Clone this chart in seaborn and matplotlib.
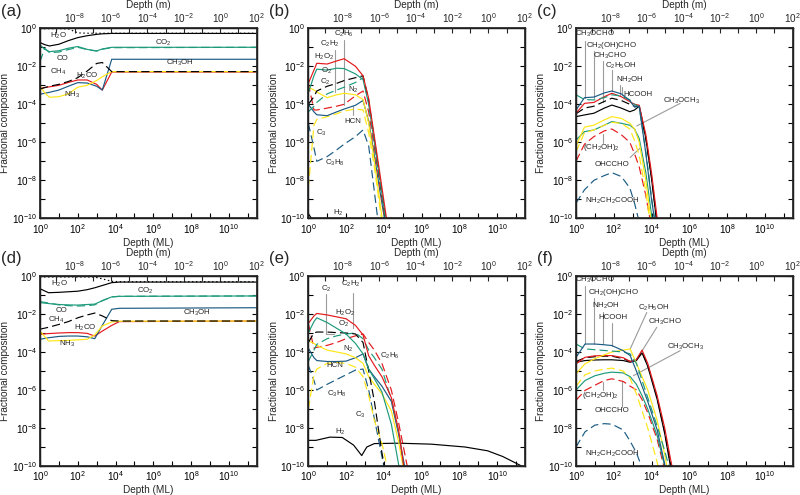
import numpy as np
import seaborn as sns
import matplotlib
matplotlib.use("Agg")
import matplotlib.pyplot as plt
from matplotlib.ticker import FixedLocator, FuncFormatter, NullLocator

sns.set_theme(style="ticks")
plt.rcParams['font.family'] = ['Liberation Sans', 'DejaVu Sans']
plt.rcParams['mathtext.fontset'] = 'custom'
plt.rcParams['mathtext.rm'] = 'Liberation Sans'
plt.rcParams['mathtext.it'] = 'Liberation Sans:italic'
plt.rcParams['mathtext.bf'] = 'Liberation Sans:bold'

# all values are log10 (depth in ML, fractional composition)

# ---- panel (a)
depth_a = [0, 0.25, 0.5, 1, 1.5, 2, 2.5, 3, 3.3, 3.8, 11.5]
a_total = [-0.02, -0.02, -0.02, -0.02, -0.03, -0.24, -0.26, -0.26, -0.26, -0.26, -0.26]
a_h2o = [-0.75, -0.86, -0.93, -0.84, -0.65, -0.49, -0.39, -0.32, -0.29, -0.27, -0.27]
a_co2 = [-0.88, -1.1, -1.23, -1.18, -1.05, -0.96, -1.11, -1.19, -1.09, -1.0, -1.0]
a_co = [-1.75, -1.05, -1.28, -1.25, -1.12, -1.0, -1.12, -1.2, -1.1, -1.02, -1.0]
a_ch4 = [-3.2, -3.12, -3.05, -2.95, -2.8, -2.6, -2.25, -1.85, -1.8, -2.28, -2.28]
a_h2co = [-3.16, -3.12, -3.08, -3.0, -2.85, -2.72, -2.72, -2.95, -3.25, -2.3, -2.3]
a_ch3oh = [-3.47, -3.42, -3.37, -3.25, -3.05, -2.86, -2.88, -3.05, -3.25, -1.63, -1.63]
a_nh3 = [-3.03, -3.4, -3.63, -3.6, -3.45, -3.1, -3.0, -2.75, -2.55, -2.28, -2.28]

# ---- panel (b)
depth_b = [0, 0.3, 0.45, 1, 1.5, 1.9, 2.5, 2.9, 3.2, 3.5, 3.8, 4.2]
b_h2 = [-9.75, -10.2, -11, -11, -11, -11, -11, -11, -11, -11, -11, -11]
b_h2o2 = [-2.9, -2.2, -1.84, -1.88, -1.72, -1.6, -2.0, -2.5, -3.7, -5.7, -7.7, -10.4]
b_o2 = [-3.4, -2.5, -2.15, -2.2, -2.1, -2.12, -2.4, -2.7, -4.0, -6.0, -8.0, -10.8]
b_c2 = [-4.0, -3.6, -3.3, -3.05, -2.9, -2.75, -2.6, -2.5, -3.8, -5.9, -8.0, -10.8]
b_c2h2 = [-4.4, -4.1, -3.9, -3.45, -3.25, -3.1, -2.85, -2.6, -3.9, -5.9, -8.0, -10.8]
b_yellow = [-3.1, -3.25, -3.35, -3.65, -3.5, -3.42, -3.5, -3.75, -5.0, -7.0, -9.2, -12.0]
b_red_d = [-2.9, -4.3, -4.3, -4.2, -4.1, -4.0, -3.55, -3.3, -4.4, -6.3, -8.3, -11.0]
b_hcn = [-4.0, -4.4, -4.55, -4.6, -4.4, -4.25, -4.05, -3.8, -4.9, -6.7, -8.6, -11.0]
b_c3 = [-8.4, -5.1, -4.8, -4.65, -4.5, -4.35, -4.25, -4.3, -5.5, -7.3, -9.5, -12.0]
b_c3h8 = [-5.0, -6.3, -7.0, -6.75, -6.4, -6.1, -5.7, -5.35, -6.2, -8.6, -11.0, -13.0]

# ---- panel (c)
depth_c = [0, 0.45, 0.95, 1.5, 1.9, 2.4, 2.85, 3.1, 3.35, 3.7, 4.0, 4.3]
c_blue = [-4.3, -3.65, -3.62, -3.4, -3.3, -3.45, -3.8, -4.15, -4.1, -6.6, -9.0, -11.0]
c_green_d = [-3.5, -3.75, -3.77, -3.65, -3.5, -3.56, -3.77, -4.0, -4.15, -6.5, -8.9, -11.0]
c_red = [-4.47, -3.95, -3.9, -3.6, -3.42, -3.6, -3.86, -4.0, -4.05, -5.6, -7.6, -10.0]
c_black_d = [-4.5, -4.2, -4.1, -3.85, -3.68, -3.8, -4.0, -4.1, -4.1, -5.8, -7.8, -10.3]
c_black = [-4.65, -4.56, -4.47, -4.2, -4.04, -4.2, -4.39, -4.3, -4.1, -5.8, -7.9, -10.4]
c_yellow = [-6.2, -5.2, -5.1, -4.82, -4.65, -4.74, -5.0, -5.3, -6.0, -8.0, -10.3, -12.0]
c_yellow_d = [-6.5, -5.5, -5.35, -5.1, -4.95, -5.0, -5.3, -5.9, -6.7, -8.6, -10.8, -12.0]
c_green = [-5.88, -5.44, -5.35, -5.1, -4.91, -5.0, -5.1, -5.3, -5.8, -7.6, -9.8, -12.0]
c_red_d = [-7.0, -6.1, -5.7, -5.4, -5.3, -5.6, -6.0, -6.6, -7.3, -8.8, -10.5, -12.0]
c_blue_d = [-9.2, -8.5, -8.0, -7.75, -7.6, -7.8, -8.4, -9.2, -10.2, -12.0, -12.0, -12.0]

# ---- panel (d)
depth_d = [0, 0.45, 1, 1.5, 2, 2.5, 2.9, 3.3, 3.8, 4.2, 11.5]
d_total = [-0.05, -0.05, -0.05, -0.05, -0.05, -0.05, -0.06, -0.15, -0.28, -0.3, -0.3]
d_h2o = [-0.67, -0.88, -0.86, -0.83, -0.8, -0.72, -0.62, -0.5, -0.35, -0.32, -0.32]
d_co2 = [-1.4, -1.45, -1.5, -1.52, -1.53, -1.5, -1.48, -1.3, -1.1, -1.07, -1.05]
d_co = [-1.35, -1.42, -1.52, -1.56, -1.58, -1.56, -1.52, -1.3, -1.1, -1.07, -1.05]
d_ch4 = [-2.8, -2.7, -2.55, -2.4, -2.2, -2.05, -1.95, -2.1, -2.35, -2.37, -2.37]
d_h2co = [-3.07, -3.03, -3.0, -2.98, -2.98, -3.02, -3.16, -2.9, -2.6, -2.4, -2.37]
d_ch3oh = [-3.33, -3.25, -3.18, -3.16, -3.16, -3.2, -3.3, -2.6, -1.75, -1.7, -1.67]
d_nh3 = [-2.9, -3.42, -3.4, -3.39, -3.36, -3.33, -3.1, -2.63, -2.42, -2.38, -2.37]

# ---- panel (e)
depth_e = [0, 0.3, 0.45, 1, 1.5, 2, 2.5, 2.9, 3.2, 3.5, 3.9, 4.4, 4.8, 5.1, 5.4]
e_h2o2 = [-2.5, -2.1, -1.97, -2.05, -2.15, -2.25, -2.6, -3.1, -4.2, -4.7, -5.3, -6.4, -8.2, -10.3, -12.0]
e_o2 = [-3.0, -2.4, -2.2, -2.45, -2.75, -3.05, -3.55, -4.1, -4.9, -5.4, -6.1, -7.8, -10.0, -12.0, -12.0]
e_c2 = [-3.5, -3.0, -2.95, -2.95, -2.98, -3.0, -3.05, -3.5, -5.0, -6.6, -9.3, -12.0, -12.0, -12.0, -12.0]
e_c2h2 = [-4.5, -3.9, -3.6, -3.3, -3.15, -3.05, -3.0, -3.3, -3.9, -4.3, -4.9, -6.5, -8.3, -10.3, -12.0]
e_red_d = [-2.5, -3.8, -3.75, -3.65, -3.5, -3.3, -3.15, -3.05, -3.5, -3.9, -4.6, -6.0, -7.8, -9.3, -10.8]
e_yellow = [-3.4, -3.55, -3.65, -3.9, -4.0, -4.1, -4.3, -4.6, -5.3, -5.7, -6.2, -7.1, -8.8, -10.5, -12.0]
e_hcn = [-3.8, -4.3, -4.45, -4.5, -4.5, -4.48, -4.3, -4.1, -4.9, -5.3, -5.8, -6.6, -8.4, -10.0, -12.0]
e_c3 = [-7.0, -5.2, -4.9, -4.6, -4.55, -4.6, -4.8, -5.3, -6.3, -7.6, -8.8, -11.0, -12.0, -12.0, -12.0]
e_c3h8 = [-4.7, -5.5, -6.0, -5.7, -5.45, -5.2, -4.95, -4.9, -6.0, -7.5, -9.5, -12.0, -12.0, -12.0, -12.0]
depth_e_h2 = [0, 0.4, 1.15, 1.8, 2.4, 2.83, 3.1, 3.5, 4.8, 6.5, 8.3, 9.5, 10.3, 11.0, 11.5]
e_h2 = [-8.65, -8.65, -8.48, -8.5, -8.9, -9.45, -9.0, -8.82, -8.8, -8.85, -9.0, -9.2, -9.5, -9.85, -10.1]

# ---- panel (f)
depth_f = [0, 0.48, 1, 1.5, 1.9, 2.5, 2.87, 3.2, 3.5, 3.8, 4.3, 4.7, 5.0, 5.3]
f_blue = [-4.28, -3.58, -3.58, -3.62, -3.66, -3.93, -4.19, -5.0, -5.8, -6.6, -8.1, -9.9, -12, -12]
f_green_d = [-3.58, -3.84, -3.88, -3.92, -3.95, -4.0, -4.1, -4.6, -5.5, -6.4, -7.9, -9.2, -10.3, -12]
f_yellow = [-5.15, -4.62, -4.35, -4.15, -4.0, -3.9, -3.84, -4.6, -5.3, -6.0, -7.6, -9.4, -11, -12]
f_red = [-4.62, -4.28, -4.2, -4.19, -4.19, -4.3, -4.5, -4.4, -3.9, -4.6, -6.3, -8.0, -9.6, -11]
f_black_d = [-4.5, -4.3, -4.25, -4.22, -4.22, -4.35, -4.5, -4.4, -4.0, -4.7, -6.4, -8.2, -9.8, -11]
f_black = [-4.54, -4.45, -4.42, -4.41, -4.41, -4.45, -4.54, -4.45, -4.05, -4.75, -6.5, -8.3, -10.0, -11.5]
f_green = [-6.0, -5.5, -5.25, -5.12, -5.06, -5.1, -5.3, -5.7, -6.3, -7.0, -8.4, -10.0, -12, -12]
f_red_d = [-6.54, -6.02, -5.75, -5.5, -5.41, -5.55, -5.8, -6.0, -6.5, -7.2, -8.6, -10.2, -12, -12]
f_yellow_d = [-5.8, -5.2, -5.0, -4.9, -4.85, -5.0, -5.4, -6.2, -7.1, -8.0, -9.8, -12, -12, -12]
f_blue_d = [-9.0, -8.2, -7.85, -7.77, -7.8, -8.1, -8.7, -9.3, -10.1, -12, -12, -12, -12, -12]

BLACK, RED, GREEN, BLUE, YELLOW = 'black', '#e3191c', '#1d9a7c', '#1b5b83', '#ffe617'
GREY = '#9b9b9b'
SOLID, DASH, DOT = '-', (0, (7, 3.5)), (0, (1.2, 2.2))

panels = [
    dict(tag='(a)', pos=(40, 28.3), series=[
        (depth_a, a_total, BLACK, DOT), (depth_a, a_h2o, BLACK, SOLID),
        (depth_a, a_co2, GREEN, SOLID), (depth_a, a_co, GREEN, DASH),
        (depth_a, a_h2co, RED, SOLID), (depth_a, a_ch3oh, BLUE, SOLID),
        (depth_a, a_nh3, YELLOW, SOLID), (depth_a, a_ch4, BLACK, DASH)],
        labels=[('H$_2$O', 0.97, -0.40), ('CO$_2$', 6.55, -0.79), ('CO', 1.2, -1.61),
                ('CH$_3$OH', 7.43, -1.84), ('CH$_4$', 0.97, -2.28), ('H$_2$CO', 2.51, -2.51),
                ('NH$_3$', 1.68, -3.51)],
        leaders=[]),
    dict(tag='(b)', pos=(308.3, 28.3), series=[
        (depth_b, b_h2, BLACK, SOLID), (depth_b, b_c3h8, BLUE, DASH),
        (depth_b, b_c3, YELLOW, DASH), (depth_b, b_hcn, BLUE, SOLID),
        (depth_b, b_red_d, RED, DASH), (depth_b, b_yellow, YELLOW, SOLID),
        (depth_b, b_c2h2, GREEN, DASH), (depth_b, b_c2, BLACK, DASH),
        (depth_b, b_o2, GREEN, SOLID), (depth_b, b_h2o2, RED, SOLID)],
        labels=[('C$_2$H$_2$', 1.15, -0.82), ('C$_2$H$_6$', 1.86, -0.32), ('H$_2$O$_2$', 0.85, -1.49),
                ('O$_2$', 0.94, -2.25), ('C$_2$', 0.88, -2.8), ('N$_2$', 2.39, -3.25),
                ('HCN', 2.34, -4.91), ('C$_3$', 0.67, -5.49), ('C$_3$H$_8$', 1.42, -7.07),
                ('H$_2$', 1.6, -9.7)],
        leaders=[[(1.42, -1.14), (1.42, -3.33)], [(1.89, -0.61), (1.89, -4.04)],
                 [(2.39, -4.09), (2.39, -4.56)]]),
    dict(tag='(c)', pos=(576, 28.3), series=[
        (depth_c, c_blue_d, BLUE, DASH), (depth_c, c_red_d, RED, DASH),
        (depth_c, c_green, GREEN, SOLID), (depth_c, c_yellow_d, YELLOW, DASH),
        (depth_c, c_yellow, YELLOW, SOLID), (depth_c, c_black, BLACK, SOLID),
        (depth_c, c_black_d, BLACK, DASH), (depth_c, c_red, RED, SOLID),
        (depth_c, c_green_d, GREEN, DASH), (depth_c, c_blue, BLUE, SOLID)],
        labels=[('CH$_3$OCHO', 1.0, -0.28), ('CH$_2$(OH)CHO', 1.9, -0.93), ('CH$_3$CHO', 1.8, -1.46),
                ('C$_2$H$_5$OH', 2.34, -1.98), ('NH$_2$OH', 2.87, -2.72), ('HCOOH', 3.3, -3.47),
                ('CH$_3$OCH$_3$', 5.6, -3.82), ('(CH$_2$OH)$_2$', 1.36, -6.28),
                ('OHCCHO', 1.9, -7.16), ('NH$_2$CH$_2$COOH', 1.9, -9.09)],
        leaders=[[(0.48, -0.66), (0.48, -3.68)], [(0.96, -1.18), (0.96, -3.65)],
                 [(1.42, -1.7), (1.42, -3.86)], [(1.89, -2.22), (1.89, -3.3)],
                 [(2.34, -2.98), (2.34, -3.5)], [(2.44, -3.1), (2.44, -3.5)],
                 [(5.52, -3.95), (3.22, -5.14)], [(2.87, -6.8), (3.4, -6.3)],
                 [(1.42, -5.58), (1.42, -6.05)]]),
    dict(tag='(d)', pos=(40, 276), series=[
        (depth_d, d_total, BLACK, DOT), (depth_d, d_h2o, BLACK, SOLID),
        (depth_d, d_co2, GREEN, SOLID), (depth_d, d_co, GREEN, DASH),
        (depth_d, d_h2co, RED, SOLID), (depth_d, d_ch3oh, BLUE, SOLID),
        (depth_d, d_nh3, YELLOW, SOLID), (depth_d, d_ch4, BLACK, DASH)],
        labels=[('H$_2$O', 1.03, -0.44), ('CO$_2$', 5.58, -0.79), ('CO', 1.15, -1.79),
                ('CH$_3$OH', 8.3, -1.93), ('CH$_4$', 0.88, -2.33), ('H$_2$CO', 2.39, -2.72),
                ('NH$_3$', 1.42, -3.6)],
        leaders=[]),
    dict(tag='(e)', pos=(308.3, 276), series=[
        (depth_e_h2, e_h2, BLACK, SOLID), (depth_e, e_c3h8, BLUE, DASH),
        (depth_e, e_c3, YELLOW, DASH), (depth_e, e_hcn, BLUE, SOLID),
        (depth_e, e_red_d, RED, DASH), (depth_e, e_yellow, YELLOW, SOLID),
        (depth_e, e_c2h2, GREEN, DASH), (depth_e, e_c2, BLACK, DASH),
        (depth_e, e_o2, GREEN, SOLID), (depth_e, e_h2o2, RED, SOLID)],
        labels=[('C$_2$', 0.94, -0.7), ('C$_2$H$_2$', 2.27, -0.44), ('H$_2$O$_2$', 1.95, -1.92),
                ('O$_2$', 1.86, -2.53), ('N$_2$', 2.12, -3.84), ('C$_2$H$_6$', 4.34, -4.22),
                ('HCN', 1.42, -4.71), ('C$_3$H$_8$', 1.5, -6.23), ('C$_3$', 2.74, -7.33),
                ('H$_2$', 1.68, -8.2)],
        leaders=[[(0.94, -0.96), (0.94, -3.05), (1.35, -3.05)], [(2.39, -0.91), (2.39, -2.74)]]),
    dict(tag='(f)', pos=(576, 276), series=[
        (depth_f, f_blue_d, BLUE, DASH), (depth_f, f_red_d, RED, DASH),
        (depth_f, f_green, GREEN, SOLID), (depth_f, f_yellow_d, YELLOW, DASH),
        (depth_f, f_black, BLACK, SOLID), (depth_f, f_black_d, BLACK, DASH),
        (depth_f, f_red, RED, SOLID), (depth_f, f_yellow, YELLOW, SOLID),
        (depth_f, f_green_d, GREEN, DASH), (depth_f, f_blue, BLUE, SOLID)],
        labels=[('CH$_3$OCHO', 1.0, -0.18), ('CH$_2$(OH)CHO', 1.98, -0.87), ('NH$_2$OH', 1.59, -1.57),
                ('HCOOH', 1.98, -2.18), ('C$_2$H$_5$OH', 4.1, -1.66), ('CH$_3$CHO', 4.73, -2.44),
                ('CH$_3$OCH$_3$', 5.79, -3.75), ('(CH$_2$OH)$_2$', 1.27, -6.28),
                ('OHCCHO', 1.9, -7.07), ('NH$_2$CH$_2$COOH', 1.9, -9.34)],
        leaders=[[(0.48, -0.52), (0.48, -3.58)], [(0.96, -1.18), (0.96, -3.58)],
                 [(1.42, -1.88), (1.42, -3.58)], [(1.9, -2.48), (1.9, -3.66)],
                 [(3.75, -1.92), (2.87, -3.84)], [(4.28, -2.7), (3.4, -4.1)],
                 [(5.52, -3.93), (3.05, -5.24)], [(1.42, -5.58), (1.42, -6.02)],
                 [(2.42, -5.5), (2.42, -6.9)]]),
]

W, H = 800, 495
AX_W, AX_H = 216.5, 190.0
FS = 7.2
LABEL_FS = 5.7


def even_decade(v, pos):
    e = int(round(np.log10(v)))
    return r'$\mathdefault{10^{%d}}$' % e if e % 2 == 0 else ''


fig = plt.figure(figsize=(W / 100, H / 100), dpi=100)

for p in panels:
    x0, y0 = p['pos']
    ax = fig.add_axes([x0 / W, 1 - (y0 + AX_H) / H, AX_W / W, AX_H / H])

    for pts in p['leaders']:
        lx, ly = zip(*pts)
        ax.plot(10.0 ** np.array(lx), 10.0 ** np.array(ly), color=GREY, lw=0.8, zorder=1)

    for xs, ys, col, ls in p['series']:
        sns.lineplot(x=10.0 ** np.array(xs), y=10.0 ** np.array(ys), ax=ax, color=col,
                     linestyle=ls, linewidth=0.85, estimator=None, sort=False, legend=False)

    for txt, lx, ly in p['labels']:
        ax.text(10.0 ** lx, 10.0 ** ly, txt, fontsize=LABEL_FS, ha='center', va='center', zorder=5)

    ax.set_xscale('log')
    ax.set_yscale('log')
    ax.set_xlim(1, 10 ** 11.47)
    ax.set_ylim(1e-10, 1)
    ax.xaxis.set_major_locator(FixedLocator(10.0 ** np.arange(0, 12)))
    ax.xaxis.set_major_formatter(FuncFormatter(even_decade))
    ax.xaxis.set_minor_locator(NullLocator())
    ax.yaxis.set_major_locator(FixedLocator(10.0 ** np.arange(-10, 1)))
    ax.yaxis.set_major_formatter(FuncFormatter(even_decade))
    ax.yaxis.set_minor_locator(NullLocator())
    ax.tick_params(direction='in', length=3.5, width=0.8, labelsize=FS, right=True,
                   top=False, pad=2.5, colors='black')
    for s in ax.spines.values():
        s.set_linewidth(1.0)
        s.set_color('black')
    ax.set_xlabel('Depth (ML)', fontsize=FS, labelpad=1.5)
    ax.set_ylabel('Fractional composition', fontsize=FS, labelpad=1)

    top = ax.twiny()
    top.set_xscale('log')
    top.set_xlim(10 ** -9.9, 1e2)
    top.xaxis.set_major_locator(FixedLocator(10.0 ** np.arange(-9, 3)))
    top.xaxis.set_major_formatter(FuncFormatter(even_decade))
    top.xaxis.set_minor_locator(NullLocator())
    top.tick_params(direction='in', length=3.5, width=0.8, labelsize=FS, pad=2.5)
    top.set_xlabel('Depth (m)', fontsize=FS, labelpad=2)

    fig.text((x0 - 39) / W, 1 - (y0 - 17) / H, p['tag'], fontsize=12, ha='left', va='center')

fig.savefig('out.png', dpi=100)
